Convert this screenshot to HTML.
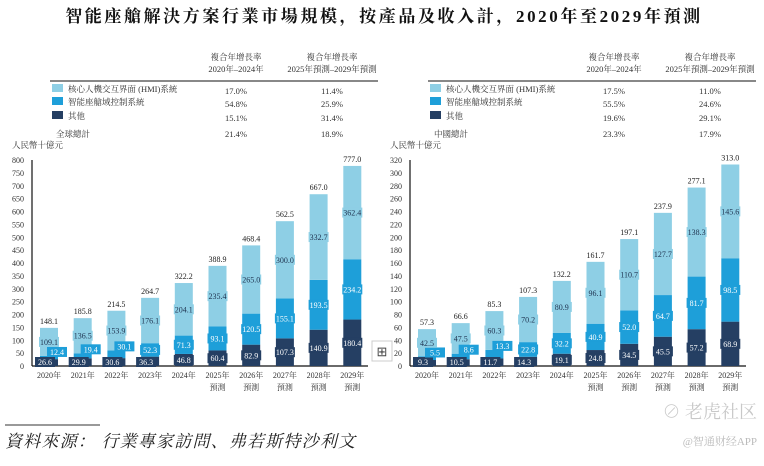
<!DOCTYPE html>
<html><head><meta charset="utf-8">
<style>
body{margin:0;background:#fff;width:764px;height:461px;overflow:hidden;font-family:"Liberation Serif","Noto Serif CJK SC",serif;}
svg text{font-family:"Liberation Serif","Noto Serif CJK SC",serif;}
</style></head>
<body>
<svg id="s" width="764" height="461" xmlns="http://www.w3.org/2000/svg">
<text x="384" y="22" text-anchor="middle" font-size="17" font-weight="bold" fill="#111" letter-spacing="2.6">智能座艙解決方案行業市場規模，按產品及收入計，2020年至2029年預測</text>
<g id="L"></g><g id="R"></g>
<line x1="5" y1="425" x2="100" y2="425" stroke="#333" stroke-width="1"/>
<text x="5" y="447" font-size="17" font-style="italic" fill="#222" letter-spacing="1.2">資料來源：  行業專家訪問、弗若斯特沙利文</text>
<text x="757" y="418" text-anchor="end" font-size="18" fill="#c8c8c8" font-family="Liberation Sans, Noto Sans CJK SC, sans-serif">⊘ 老虎社区</text>
<text x="757" y="445" text-anchor="end" font-size="11" fill="#bbb" font-family="Liberation Sans, Noto Sans CJK SC, sans-serif">@智通财经APP</text>
<g><rect x="372" y="341" width="20" height="20" fill="#fff" stroke="#ccc"/><text x="382" y="356" text-anchor="middle" font-size="13" fill="#444">⊞</text></g>
</svg>
<script>
const years = ["2020年","2021年","2022年","2023年","2024年","2025年","2026年","2027年","2028年","2029年"];
const forecast = [false,false,false,false,false,true,true,true,true,true];
const globalOther = [26.6,29.9,30.6,36.3,46.8,60.4,82.9,107.3,140.9,180.4];
const globalDomain = [12.4,19.4,30.1,52.3,71.3,93.1,120.5,155.1,193.5,234.2];
const globalHmi = [109.1,136.5,153.9,176.1,204.1,235.4,265.0,300.0,332.7,362.4];
const globalTotal = [148.1,185.8,214.5,264.7,322.2,388.9,468.4,562.5,667.0,777.0];
const chinaOther = [9.3,10.5,11.7,14.3,19.1,24.8,34.5,45.5,57.2,68.9];
const chinaDomain = [5.5,8.6,13.3,22.8,32.2,40.9,52.0,64.7,81.7,98.5];
const chinaHmi = [42.5,47.5,60.3,70.2,80.9,96.1,110.7,127.7,138.3,145.6];
const chinaTotal = [57.3,66.6,85.3,107.3,132.2,161.7,197.1,237.9,277.1,313.0];
const globalTicks = [0,50,100,150,200,250,300,350,400,450,500,550,600,650,700,750,800];
const chinaTicks = [0,20,40,60,80,100,120,140,160,180,200,220,240,260,280,300,320];
const legendNames = ["核心人機交互界面 (HMI)系統","智能座艙域控制系統","其他"];
const globalCagr1 = ["17.0%","54.8%","15.1%","21.4%"];
const globalCagr2 = ["11.4%","25.9%","31.4%","18.9%"];
const chinaCagr1 = ["17.5%","55.5%","19.6%","23.3%"];
const chinaCagr2 = ["11.0%","24.6%","29.1%","17.9%"];
const colors = ["#8ecfe5","#1e9fd9","#253f63"];
const NS="http://www.w3.org/2000/svg";
function mk(p,tag,a,txt){const e=document.createElementNS(NS,tag);for(const k in a)e.setAttribute(k,a[k]);if(txt!==undefined)e.textContent=txt;p.appendChild(e);return e;}
function chart(g,ox,ticks,other,domain,hmi,total,c1,c2,totalName,pfx){
  const x0=ox+32,yb=366,yt=160,max=ticks[ticks.length-1];
  const y=v=>yb-(v/max)*(yb-yt);
  const xc=i=>ox+49+i*33.7;
  let t;
  t=mk(g,'text',{x:ox+236,y:60,'text-anchor':'middle','font-size':8.5,fill:'#333'},'複合年增長率');
  
  mk(g,'text',{x:ox+236,y:72,'text-anchor':'middle','font-size':8.5,fill:'#333'},'2020年–2024年');
  t=mk(g,'text',{x:ox+332,y:60,'text-anchor':'middle','font-size':8.5,fill:'#333'},'複合年增長率');
  
  mk(g,'text',{x:ox+332,y:72,'text-anchor':'middle','font-size':8.5,fill:'#333'},'2025年預測–2029年預測');
  mk(g,'line',{x1:ox+50,y1:81,x2:ox+378,y2:81,stroke:'#111','stroke-width':1});
  const ry=[92,105,119];
  for(let k=0;k<3;k++){
    const r=mk(g,'rect',{x:ox+52,y:ry[k]-8,width:11,height:8,fill:colors[k]});
    
    t=mk(g,'text',{x:ox+68,y:ry[k],'font-size':8.5,fill:'#333'},legendNames[k]);
    
    mk(g,'text',{x:ox+236,y:ry[k]+2,'text-anchor':'middle','font-size':8.5,fill:'#333'},c1[k]);
    mk(g,'text',{x:ox+332,y:ry[k]+2,'text-anchor':'middle','font-size':8.5,fill:'#333'},c2[k]);
  }
  t=mk(g,'text',{x:ox+56,y:137,'font-size':8.5,fill:'#333'},totalName);
  
  mk(g,'text',{x:ox+236,y:137,'text-anchor':'middle','font-size':8.5,fill:'#333'},c1[3]);
  mk(g,'text',{x:ox+332,y:137,'text-anchor':'middle','font-size':8.5,fill:'#333'},c2[3]);
  t=mk(g,'text',{x:ox+12,y:148,'font-size':8.5,fill:'#333'},'人民幣十億元');
  
  ticks.forEach(v=>{const tt=mk(g,'text',{x:x0-8,y:y(v)+3,'text-anchor':'end','font-size':8,fill:'#333'},v);
    });
  const ax=mk(g,'line',{x1:x0,y1:yt,x2:x0,y2:yb,stroke:'#111','stroke-width':1.2});
  
  const bx=mk(g,'line',{x1:x0,y1:yb,x2:ox+368,y2:yb,stroke:'#111','stroke-width':1.2});
  
  const bw=18;
  const labs=[];
  years.forEach((yr,i)=>{
    const segs=[other[i],domain[i],hmi[i]];const ci=[2,1,0];let base=0;
    segs.forEach((v,k)=>{
      const r=mk(g,'rect',{x:xc(i)-bw/2,y:y(base+v),width:bw,height:y(base)-y(base+v),fill:colors[ci[k]]});
      
      
      let lx=xc(i),ly=(y(base)+y(base+v))/2+3;
      const h=y(base)-y(base+v);
      if(h<10){ if(k===0){lx-=4;ly=yb-1;} else if(k===1){lx+=8;ly=y(base+v)-1;} }
      labs.push([lx,ly,k,v]);
      base+=v;
    });
    const tl=mk(g,'text',{x:xc(i),y:y(total[i])-4,'text-anchor':'middle','font-size':8,fill:'#222'},total[i].toFixed(1));
    
    const xl=mk(g,'text',{x:xc(i),y:378,'text-anchor':'middle','font-size':8,fill:'#333'},yr);
    
    if(forecast[i])mk(g,'text',{x:xc(i),y:390,'text-anchor':'middle','font-size':8,fill:'#333'},'預測');
  });
  labs.forEach(([lx,ly,k,v])=>{
    mk(g,'rect',{x:lx-10,y:ly-8,width:20,height:10,fill:colors[[2,1,0][k]]});
    const lab=mk(g,'text',{x:lx,y:ly,'text-anchor':'middle','font-size':8,fill:k===2?'#1f3350':'#fff'},v.toFixed(1));
    
  });
}
chart(document.getElementById('L'),0,globalTicks,globalOther,globalDomain,globalHmi,globalTotal,globalCagr1,globalCagr2,'全球總計','global');
chart(document.getElementById('R'),378,chinaTicks,chinaOther,chinaDomain,chinaHmi,chinaTotal,chinaCagr1,chinaCagr2,'中國總計','china');
</script>
</body></html>
